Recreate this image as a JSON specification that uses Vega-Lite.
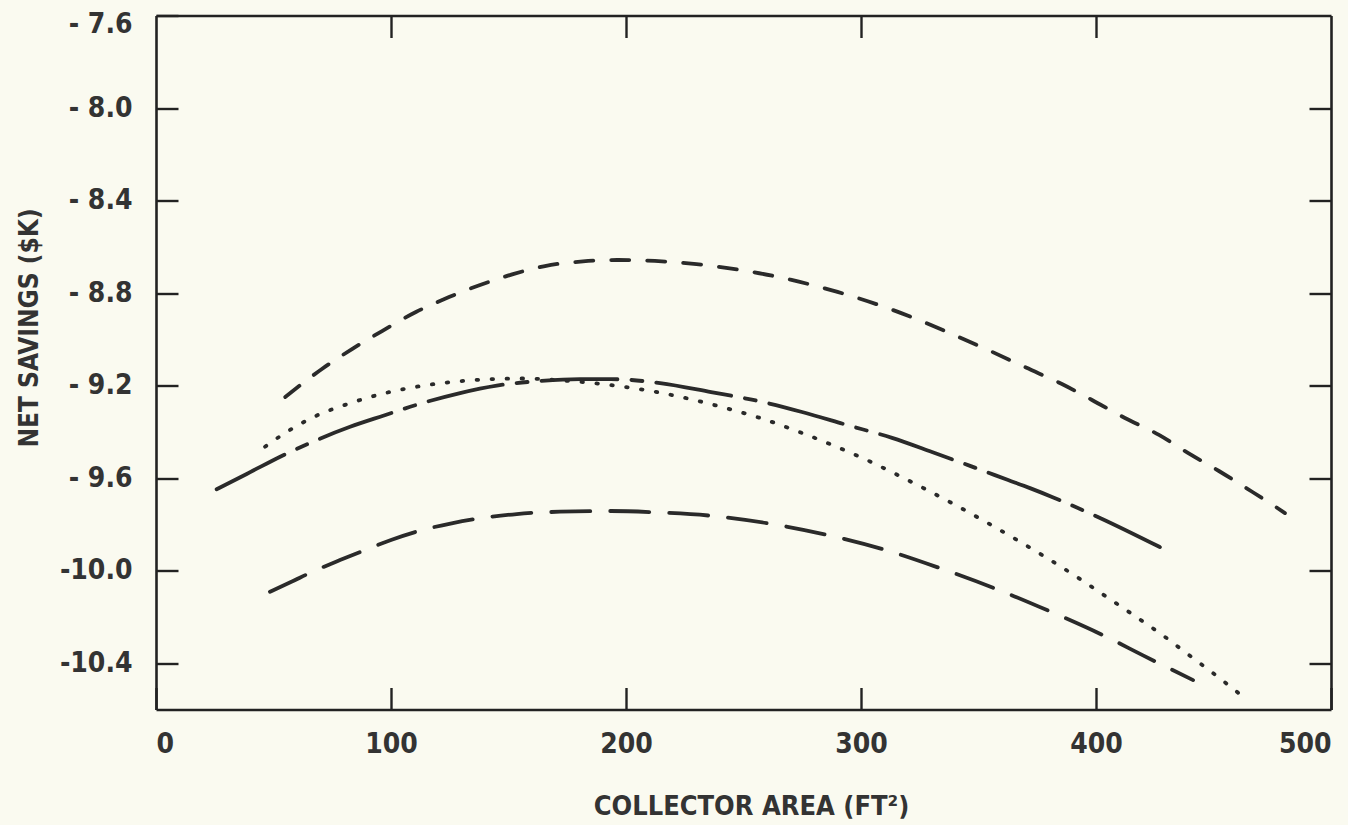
{
  "$schema": "https://vega.github.io/schema/vega-lite/v6.json",
  "width": 1175,
  "height": 694,
  "autosize": "none",
  "padding": {"left": 156, "top": 15.5, "right": 17, "bottom": 115.5},
  "background": "#fafaf0",
  "config": {"view": {"stroke": null}},
  "data": {"values": [
    {"s":"A","x":55,"y":-9.249},{"s":"A","x":70.6,"y":-9.128},{"s":"A","x":83.4,"y":-9.042},{"s":"A","x":96.2,"y":-8.964},
    {"s":"A","x":110.6,"y":-8.882},{"s":"A","x":124.7,"y":-8.817},{"s":"A","x":137.9,"y":-8.765},{"s":"A","x":152.3,"y":-8.717},
    {"s":"A","x":165.5,"y":-8.683},{"s":"A","x":181.7,"y":-8.663},{"s":"A","x":196.6,"y":-8.657},{"s":"A","x":212.3,"y":-8.661},
    {"s":"A","x":230,"y":-8.675},{"s":"A","x":250,"y":-8.702},{"s":"A","x":270,"y":-8.742},{"s":"A","x":290,"y":-8.795},
    {"s":"A","x":310,"y":-8.86},{"s":"A","x":325,"y":-8.918},{"s":"A","x":339.6,"y":-8.981},{"s":"A","x":354.5,"y":-9.048},
    {"s":"A","x":370.2,"y":-9.122},{"s":"A","x":385.5,"y":-9.193},{"s":"A","x":398.3,"y":-9.262},{"s":"A","x":412.3,"y":-9.34},
    {"s":"A","x":426.8,"y":-9.413},{"s":"A","x":439.1,"y":-9.491},{"s":"A","x":452.3,"y":-9.569},{"s":"A","x":463.8,"y":-9.642},
    {"s":"A","x":476.6,"y":-9.725},{"s":"A","x":480.4,"y":-9.751},

    {"s":"B","x":25.8,"y":-9.648},{"s":"B","x":38.6,"y":-9.582},{"s":"B","x":53.5,"y":-9.504},{"s":"B","x":68.4,"y":-9.435},
    {"s":"B","x":82.6,"y":-9.378},{"s":"B","x":96.7,"y":-9.33},{"s":"B","x":111.2,"y":-9.282},{"s":"B","x":129.4,"y":-9.232},
    {"s":"B","x":145,"y":-9.2},{"s":"B","x":163.4,"y":-9.18},{"s":"B","x":180.4,"y":-9.172},{"s":"B","x":193.6,"y":-9.172},
    {"s":"B","x":214.5,"y":-9.189},{"s":"B","x":236.2,"y":-9.228},{"s":"B","x":258.3,"y":-9.271},{"s":"B","x":274.9,"y":-9.314},
    {"s":"B","x":294,"y":-9.37},{"s":"B","x":313.2,"y":-9.426},{"s":"B","x":330.2,"y":-9.487},{"s":"B","x":346.4,"y":-9.547},
    {"s":"B","x":362.6,"y":-9.608},{"s":"B","x":371.9,"y":-9.643},{"s":"B","x":381.3,"y":-9.681},{"s":"B","x":401.7,"y":-9.772},
    {"s":"B","x":427.2,"y":-9.898},

    {"s":"C","x":46.4,"y":-9.464},{"s":"C","x":54.9,"y":-9.405},{"s":"C","x":66.8,"y":-9.337},{"s":"C","x":82.6,"y":-9.276},
    {"s":"C","x":96,"y":-9.236},{"s":"C","x":110.9,"y":-9.205},{"s":"C","x":125.1,"y":-9.185},{"s":"C","x":140.7,"y":-9.173},
    {"s":"C","x":155,"y":-9.169},{"s":"C","x":171.9,"y":-9.177},{"s":"C","x":196.2,"y":-9.201},{"s":"C","x":211.1,"y":-9.224},
    {"s":"C","x":226,"y":-9.255},{"s":"C","x":241.3,"y":-9.294},{"s":"C","x":258.3,"y":-9.344},{"s":"C","x":273.2,"y":-9.398},
    {"s":"C","x":288.1,"y":-9.458},{"s":"C","x":302.6,"y":-9.522},{"s":"C","x":315.7,"y":-9.587},{"s":"C","x":328.1,"y":-9.651},
    {"s":"C","x":340.9,"y":-9.72},{"s":"C","x":353.6,"y":-9.792},{"s":"C","x":365.5,"y":-9.862},{"s":"C","x":377,"y":-9.932},
    {"s":"C","x":390.2,"y":-10.016},{"s":"C","x":401.7,"y":-10.094},{"s":"C","x":415.7,"y":-10.19},{"s":"C","x":428.1,"y":-10.277},
    {"s":"C","x":440,"y":-10.368},{"s":"C","x":452.8,"y":-10.466},{"s":"C","x":464.3,"y":-10.559},

    {"s":"D","x":48.5,"y":-10.091},{"s":"D","x":57.4,"y":-10.049},{"s":"D","x":66.9,"y":-10.003},{"s":"D","x":78.3,"y":-9.954},
    {"s":"D","x":90.4,"y":-9.905},{"s":"D","x":100.3,"y":-9.866},{"s":"D","x":110.9,"y":-9.831},{"s":"D","x":125.8,"y":-9.795},
    {"s":"D","x":140,"y":-9.77},{"s":"D","x":153.5,"y":-9.755},{"s":"D","x":171.9,"y":-9.745},{"s":"D","x":193.6,"y":-9.742},
    {"s":"D","x":213.2,"y":-9.748},{"s":"D","x":238.7,"y":-9.765},{"s":"D","x":263.8,"y":-9.801},{"s":"D","x":287.7,"y":-9.85},
    {"s":"D","x":310.6,"y":-9.911},{"s":"D","x":333.6,"y":-9.989},{"s":"D","x":358.3,"y":-10.082},{"s":"D","x":380.9,"y":-10.178},
    {"s":"D","x":403.8,"y":-10.283},{"s":"D","x":420,"y":-10.366},{"s":"D","x":441.3,"y":-10.473}
  ]},
  "layer": [
    {
      "mark": {"type": "line", "color": "#2a2a2a", "strokeWidth": 3.8, "strokeCap": "round", "interpolate": "monotone"},
      "encoding": {
        "x": {"field": "x", "type": "quantitative",
          "scale": {"domain": [0, 500], "nice": false, "zero": false},
          "axis": {"orient": "bottom", "values": [0, 100, 200, 300, 400, 500], "grid": false,
            "domainColor": "#222", "domainWidth": 2.6, "tickColor": "#222", "tickWidth": 2.4, "tickSize": -22,
            "labelFont": "DejaVu Sans Condensed, DejaVu Sans, sans-serif", "labelFontSize": 28, "labelFontWeight": "bold", "labelColor": "#333",
            "labelPadding": 43, "labelFlush": true, "labelBaseline": "top",
            "title": "COLLECTOR AREA (FT²)", "titleFont": "DejaVu Sans Condensed, DejaVu Sans, sans-serif", "titleFontSize": 27, "titleFontWeight": "bold",
            "titleColor": "#333", "titleX": 595, "titleY": 96.5, "titleBaseline": "middle", "titleAnchor": "middle"}},
        "y": {"field": "y", "type": "quantitative",
          "scale": {"domain": [-10.6, -7.6], "nice": false, "zero": false},
          "axis": {"orient": "left", "values": [-7.6, -8.0, -8.4, -8.8, -9.2, -9.6, -10.0, -10.4], "grid": false,
            "labelExpr": "datum.value <= -9.99 ? '-' + format(-datum.value, '.1f') : '- ' + format(-datum.value, '.1f')",
            "domainColor": "#222", "domainWidth": 2.6, "tickColor": "#222", "tickWidth": 2.4, "tickSize": -22,
            "labelFont": "DejaVu Sans Condensed, DejaVu Sans, sans-serif", "labelFontSize": 28, "labelFontWeight": "bold", "labelColor": "#333",
            "labelPadding": 46, "labelFlush": false, "labelBaseline": "middle",
            "labelOffset": {"condition": {"test": "datum.value > -7.7", "value": 9}, "value": 0},
            "title": "NET SAVINGS ($K)", "titleFont": "DejaVu Sans Condensed, DejaVu Sans, sans-serif", "titleFontSize": 26, "titleFontWeight": "bold",
            "titleColor": "#333", "titleX": -127, "titleY": 312, "titleBaseline": "middle", "titleAngle": 270, "titleAnchor": "middle"}},
        "strokeDash": {"field": "s", "type": "nominal",
          "scale": {"domain": ["A", "B", "C", "D"], "range": [[18, 18], [76, 14, 11, 14], [1.5, 13.5], [39, 20]]},
          "legend": null}
      }
    },
    {
      "mark": {"type": "point", "opacity": 0},
      "encoding": {
        "x": {"field": "x", "type": "quantitative",
          "scale": {"domain": [0, 500], "nice": false, "zero": false},
          "axis": {"orient": "top", "values": [100, 200, 300, 400], "grid": false, "labels": false, "title": null,
            "domainColor": "#222", "domainWidth": 2.6, "tickColor": "#222", "tickWidth": 2.4, "tickSize": -22}},
        "y": {"field": "y", "type": "quantitative",
          "scale": {"domain": [-10.6, -7.6], "nice": false, "zero": false},
          "axis": {"orient": "right", "values": [-8.0, -8.4, -8.8, -9.2, -9.6, -10.0, -10.4], "grid": false, "labels": false, "title": null,
            "domainColor": "#222", "domainWidth": 2.6, "tickColor": "#222", "tickWidth": 2.4, "tickSize": -22}}
      }
    }
  ],
  "resolve": {"axis": {"x": "independent", "y": "independent"}}
}
